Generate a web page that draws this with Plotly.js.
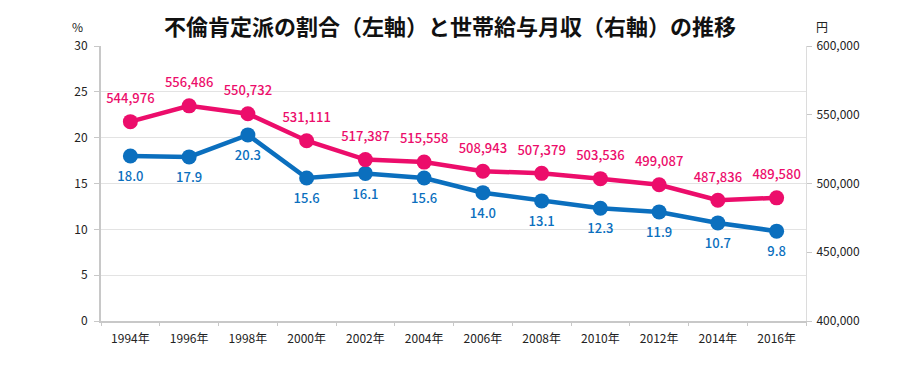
<!DOCTYPE html>
<html><head><meta charset="utf-8">
<script src="https://cdn.plot.ly/plotly-3.0.1.min.js"></script>
<style>body{margin:0;background:#fff}#c{width:900px;height:390px}</style>
</head><body><div id="c"></div>
<script>
const years = ["1994年","1996年","1998年","2000年","2002年","2004年","2006年","2008年","2010年","2012年","2014年","2016年"];
const affairRate = [18.0,17.9,20.3,15.6,16.1,15.6,14.0,13.1,12.3,11.9,10.7,9.8];
const income = [544976,556486,550732,531111,517387,515558,508943,507379,503536,499087,487836,489580];
const pink = "#ec0d6b", blue = "#0b6fbe";
const font = "'Noto Sans CJK JP', 'Noto Sans', sans-serif";
const traces = [
 {x: years, y: income, yaxis: "y2", type: "scatter", mode: "lines+markers",
  line: {color: pink, width: 4.5}, marker: {color: pink, size: 15}, hoverinfo: "none"},
 {x: years, y: income, yaxis: "y2", type: "scatter", mode: "markers+text",
  marker: {size: 23, opacity: 0},
  text: income.map(v => v.toLocaleString("en-US")), textposition: "top center",
  textfont: {color: pink, size: 13, family: font, weight: 500}, cliponaxis: false, hoverinfo: "none"},
 {x: years, y: affairRate, type: "scatter", mode: "lines+markers",
  line: {color: blue, width: 4.5}, marker: {color: blue, size: 15}, hoverinfo: "none"},
 {x: years, y: affairRate, type: "scatter", mode: "markers+text",
  marker: {size: 23, opacity: 0},
  text: affairRate.map(v => v.toFixed(1)), textposition: "bottom center",
  textfont: {color: blue, size: 13, family: font, weight: 500}, cliponaxis: false, hoverinfo: "none"}
];
const layout = {
 width: 900, height: 390, showlegend: false,
 margin: {l: 101, r: 94, t: 46, b: 69},
 paper_bgcolor: "#fff", plot_bgcolor: "#fff",
 font: {family: font, color: "#222", size: 12},
 title: {text: "<b>不倫肯定派の割合（左軸）と世帯給与月収（右軸）の推移</b>", x: 0.5, xanchor: "center", y: 0.93, yanchor: "middle", font: {size: 22, color: "#111", family: font}},
 xaxis: {type: "category", range: [-0.5, years.length - 0.5], showgrid: false, showline: true, linecolor: "#c8c8c8", linewidth: 2,
   ticks: "outside", tickson: "boundaries", ticklen: 3, tickcolor: "#c8c8c8", tickfont: {size: 12}, ticklabelstandoff: 6},
 yaxis: {range: [0, 30], dtick: 5, showgrid: true, gridcolor: "#e3e3e3", showline: true, linecolor: "#c8c8c8", linewidth: 2,
   ticks: "outside", ticklen: 5, tickcolor: "#c8c8c8", zeroline: false, tickfont: {size: 12}, ticklabelstandoff: 4},
 yaxis2: {range: [400000, 600000], dtick: 50000, overlaying: "y", side: "right", showgrid: false,
   showline: true, linecolor: "#dcdcdc", linewidth: 1, ticks: "outside", ticklen: 5, tickcolor: "#c8c8c8",
   tickformat: ",d", zeroline: false, tickfont: {size: 12}, ticklabelstandoff: 2},
 annotations: [
  {text: "%", xref: "paper", yref: "paper", x: -0.033, y: 1.07, showarrow: false, xanchor: "center", yanchor: "middle", font: {size: 12}},
  {text: "円", xref: "paper", yref: "paper", x: 1.023, y: 1.07, showarrow: false, xanchor: "center", yanchor: "middle", font: {size: 12}}
 ]
};
Plotly.newPlot("c", traces, layout, {displayModeBar: false, staticPlot: true});
</script></body></html>
